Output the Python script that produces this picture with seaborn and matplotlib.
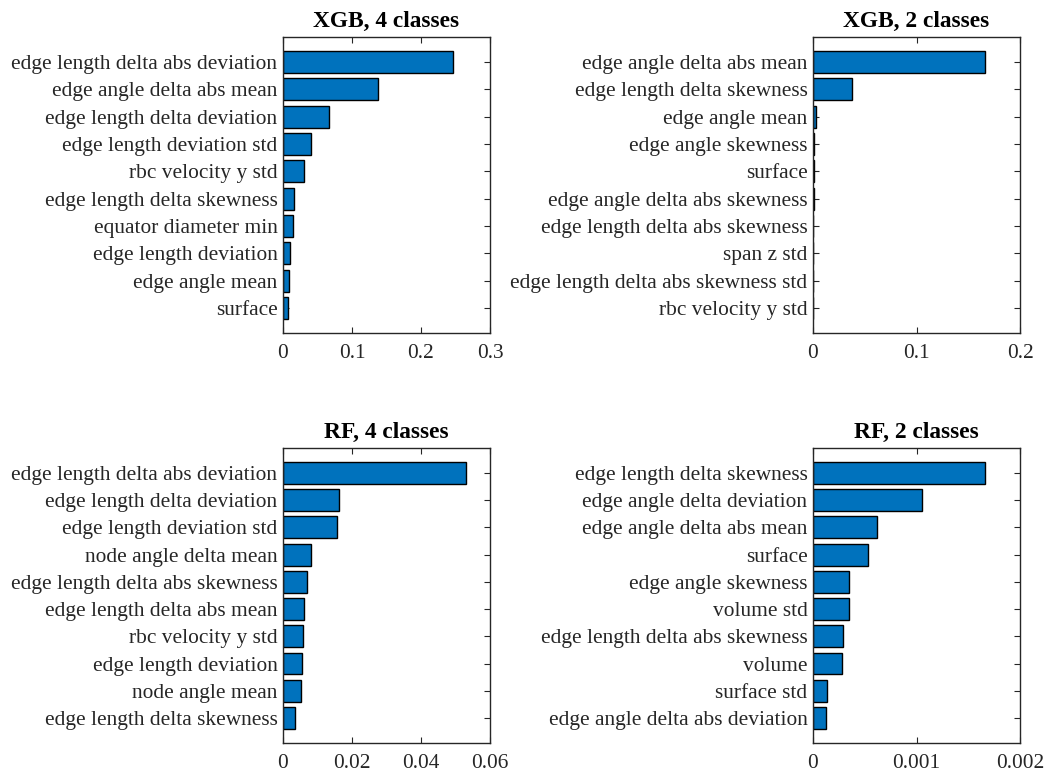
import matplotlib
matplotlib.use("Agg")
import matplotlib.pyplot as plt
import seaborn as sns
import pandas as pd

sns.set_theme(style="white")
plt.rcParams["font.family"] = ["Liberation Serif", "DejaVu Serif"]

# Feature importances per model / task
xgb4_features = [
    "edge length delta abs deviation", "edge angle delta abs mean",
    "edge length delta deviation", "edge length deviation std",
    "rbc velocity y std", "edge length delta skewness",
    "equator diameter min", "edge length deviation",
    "edge angle mean", "surface",
]
xgb4_values = [0.246, 0.137, 0.0672, 0.0406, 0.0305, 0.0164, 0.0145, 0.0097, 0.0087, 0.0077]

xgb2_features = [
    "edge angle delta abs mean", "edge length delta skewness",
    "edge angle mean", "edge angle skewness", "surface",
    "edge angle delta abs skewness", "edge length delta abs skewness",
    "span z std", "edge length delta abs skewness std", "rbc velocity y std",
]
xgb2_values = [0.1665, 0.0377, 0.0026, 0.0014, 0.0006, 0.0005, 0.0004, 0.0003, 0.0003, 0.0002]

rf4_features = [
    "edge length delta abs deviation", "edge length delta deviation",
    "edge length deviation std", "node angle delta mean",
    "edge length delta abs skewness", "edge length delta abs mean",
    "rbc velocity y std", "edge length deviation",
    "node angle mean", "edge length delta skewness",
]
rf4_values = [0.0529, 0.0162, 0.0158, 0.0081, 0.0069, 0.0061, 0.0059, 0.0056, 0.0052, 0.0036]

rf2_features = [
    "edge length delta skewness", "edge angle delta deviation",
    "edge angle delta abs mean", "surface", "edge angle skewness",
    "volume std", "edge length delta abs skewness", "volume",
    "surface std", "edge angle delta abs deviation",
]
rf2_values = [0.001658, 0.001055, 0.000623, 0.000529, 0.000352,
              0.000345, 0.00029, 0.000281, 0.000135, 0.000126]

panels = [
    ("XGB, 4 classes", xgb4_features, xgb4_values, [0, 0.1, 0.2, 0.3], ["0", "0.1", "0.2", "0.3"]),
    ("XGB, 2 classes", xgb2_features, xgb2_values, [0, 0.1, 0.2], ["0", "0.1", "0.2"]),
    ("RF, 4 classes", rf4_features, rf4_values, [0, 0.02, 0.04, 0.06], ["0", "0.02", "0.04", "0.06"]),
    ("RF, 2 classes", rf2_features, rf2_values, [0, 0.001, 0.002], ["0", "0.001", "0.002"]),
]

axes_rects = [
    [0.2672, 0.5687, 0.1955, 0.3834],
    [0.7677, 0.5687, 0.1955, 0.3834],
    [0.2672, 0.0376, 0.1955, 0.3821],
    [0.7677, 0.0376, 0.1955, 0.3821],
]

fig = plt.figure(figsize=(10.59, 7.72), dpi=100)
axis_color = "#262626"
bar_color = "#0072BD"

for rect, (title, feats, vals, xticks, xticklabels) in zip(axes_rects, panels):
    ax = fig.add_axes(rect)
    df = pd.DataFrame({"feature": feats, "importance": vals})
    sns.barplot(data=df, x="importance", y="feature", orient="h", ax=ax,
                color=bar_color, saturation=1, width=0.8,
                edgecolor="black", linewidth=1.0)
    ax.set_xlim(xticks[0], xticks[-1])
    ax.set_ylim(len(feats) - 1 + 0.915, -0.915)
    ax.set_xticks(xticks)
    ax.set_xticklabels(xticklabels)
    ax.set_xlabel("")
    ax.set_ylabel("")
    ax.set_title(title, fontsize=16.8, fontweight="bold", color="black", pad=7)
    ax.tick_params(axis="both", direction="in", length=4, width=0.8,
                   colors=axis_color, labelsize=15.4,
                   top=True, right=True, bottom=True, left=True)
    ax.tick_params(axis="y", pad=4)
    ax.tick_params(axis="x", pad=8)
    for lab in ax.get_xticklabels() + ax.get_yticklabels():
        lab.set_color(axis_color)
    for sp in ax.spines.values():
        sp.set_visible(True)
        sp.set_color(axis_color)
        sp.set_linewidth(1.0)
    ax.grid(False)

fig.savefig("out.png", dpi=100, facecolor="white")
